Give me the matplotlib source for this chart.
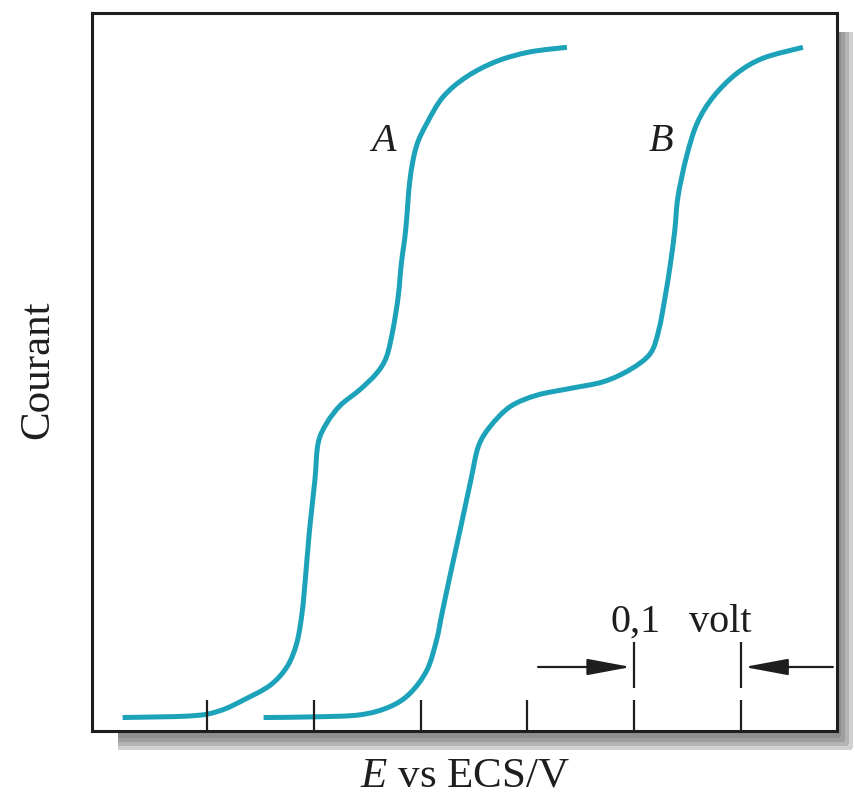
import matplotlib
matplotlib.use("Agg")
import matplotlib.pyplot as plt
import numpy as np
from matplotlib.patches import Rectangle, PathPatch
from matplotlib.path import Path

plt.rcParams["font.family"] = ["Liberation Serif", "DejaVu Serif"]
plt.rcParams["mathtext.fontset"] = "custom"
plt.rcParams["mathtext.rm"] = "Liberation Serif"
plt.rcParams["mathtext.it"] = "Liberation Serif:italic"

# Potential (V, relative to the first tick) and normalised current for each wave
E_A = [-0.079, -0.044, -0.020, 0.000, 0.017, 0.034, 0.059, 0.075, 0.084, 0.089,
       0.092, 0.096, 0.101, 0.104, 0.112, 0.125, 0.143, 0.159, 0.168, 0.174,
       0.179, 0.182, 0.186, 0.190, 0.196, 0.206, 0.221, 0.243, 0.271, 0.302, 0.337]
I_A = [0.000, 0.001, 0.002, 0.005, 0.013, 0.026, 0.048, 0.076, 0.111, 0.156,
       0.205, 0.280, 0.354, 0.409, 0.439, 0.466, 0.489, 0.514, 0.538, 0.578,
       0.628, 0.678, 0.727, 0.802, 0.852, 0.887, 0.926, 0.956, 0.979, 0.993, 1.000]

E_B = [0.053, 0.100, 0.143, 0.171, 0.190, 0.206, 0.215, 0.220, 0.228, 0.237,
       0.247, 0.254, 0.265, 0.284, 0.309, 0.340, 0.371, 0.396, 0.415, 0.423,
       0.429, 0.434, 0.438, 0.441, 0.449, 0.459, 0.474, 0.496, 0.521, 0.558]
I_B = [0.000, 0.001, 0.004, 0.016, 0.036, 0.071, 0.116, 0.155, 0.215, 0.280,
       0.354, 0.404, 0.434, 0.464, 0.481, 0.491, 0.501, 0.519, 0.543, 0.578,
       0.628, 0.678, 0.727, 0.777, 0.837, 0.887, 0.926, 0.961, 0.984, 1.000]

tick_E = [0.0, 0.1, 0.2, 0.3, 0.4, 0.5]
scale_E = [0.4, 0.5]          # the two ticks bracketing the 0.1 V scale bar
scale_words = ["0,1", "volt"]
curve_labels = ["A", "B"]
curve_label_pos = [(0.165, 0.86), (0.425, 0.86)]

teal = "#1ca2b9"
ink = "#1e1e1e"


def smooth_path(xs, ys):
    """Cubic Bezier path passing through every (x, y) point (Catmull-Rom tangents)."""
    p = np.column_stack([xs, ys]).astype(float)
    ext = np.vstack([p[0], p, p[-1]])
    verts = [p[0]]
    codes = [Path.MOVETO]
    for i in range(len(p) - 1):
        p0, p1, p2, p3 = ext[i], ext[i + 1], ext[i + 2], ext[i + 3]
        verts += [p1 + (p2 - p0) / 6.0, p2 - (p3 - p1) / 6.0, p2]
        codes += [Path.CURVE4] * 3
    return Path(verts, codes)


fig = plt.figure(figsize=(8.55, 7.98), dpi=100)
W, H = 855.0, 798.0

# drop shadow behind the frame
shade = ["#d0d0d0", "#b4b4b4", "#9e9e9e", "#8f8f8f"]
for k, c in enumerate(shade):
    w = 16 - 4 * k
    fig.patches.append(Rectangle((837 / W, (798 - 748 + 4 * k) / H), w / W,
                                 (748 - 32 - 4 * k) / H, transform=fig.transFigure,
                                 facecolor=c, edgecolor="none", zorder=0))
    fig.patches.append(Rectangle((118 / W, (798 - 750 + 4 * k) / H),
                                 (852 - 4 * k - 118) / W, (19 - 4 * k) / H,
                                 transform=fig.transFigure,
                                 facecolor=c, edgecolor="none", zorder=0))

ax = fig.add_axes([92 / W, (798 - 731) / H, 745 / W, 718 / H])
ax.set_facecolor("white")
ax.set_zorder(2)
ax.set_xlim(-0.1077, 0.5899)
ax.set_ylim(-0.0201, 1.0512)

for xs, ys in ((E_A, I_A), (E_B, I_B)):
    ax.add_patch(PathPatch(smooth_path(xs, ys), facecolor="none", edgecolor=teal,
                           lw=3.6, capstyle="butt", joinstyle="round"))

for lab, (x, y) in zip(curve_labels, curve_label_pos):
    ax.text(x, y, lab, fontsize=29, style="italic", ha="center", va="center", color=ink)

ax.set_xticks(tick_E)
ax.set_xticklabels([])
ax.set_yticks([])
ax.tick_params(axis="x", direction="in", length=22, width=1.6, color=ink)
for s in ax.spines.values():
    s.set_linewidth(2.2)
    s.set_color(ink)

# scale bar: dashed extensions of two ticks with inward arrows
ax.vlines(scale_E, 0.044, 0.113, color=ink, lw=1.6)
ybar = 0.0754
arrow = dict(arrowstyle="-|>,head_length=1.5,head_width=0.28", color=ink, lw=1.6,
             mutation_scale=18, shrinkA=0, shrinkB=0)
ax.annotate("", xy=(scale_E[0] - 0.003, ybar), xytext=(0.310, ybar), arrowprops=arrow)
ax.annotate("", xy=(scale_E[1] + 0.003, ybar), xytext=(0.586, ybar), arrowprops=arrow)
ax.text(0.4015, 0.128, scale_words[0], fontsize=29, ha="center", va="baseline", color=ink)
ax.text(0.4805, 0.128, scale_words[1], fontsize=29, ha="center", va="baseline", color=ink)

fig.text(464.5 / W, 1 - 776 / H, r"$E$ vs ECS/V", fontsize=31, ha="center",
         va="center", color=ink)
fig.text(38 / W, 1 - 370 / H, "Courant", fontsize=31, rotation=90, ha="center",
         va="center", color=ink)

fig.savefig("out.png", dpi=100, facecolor="white")
